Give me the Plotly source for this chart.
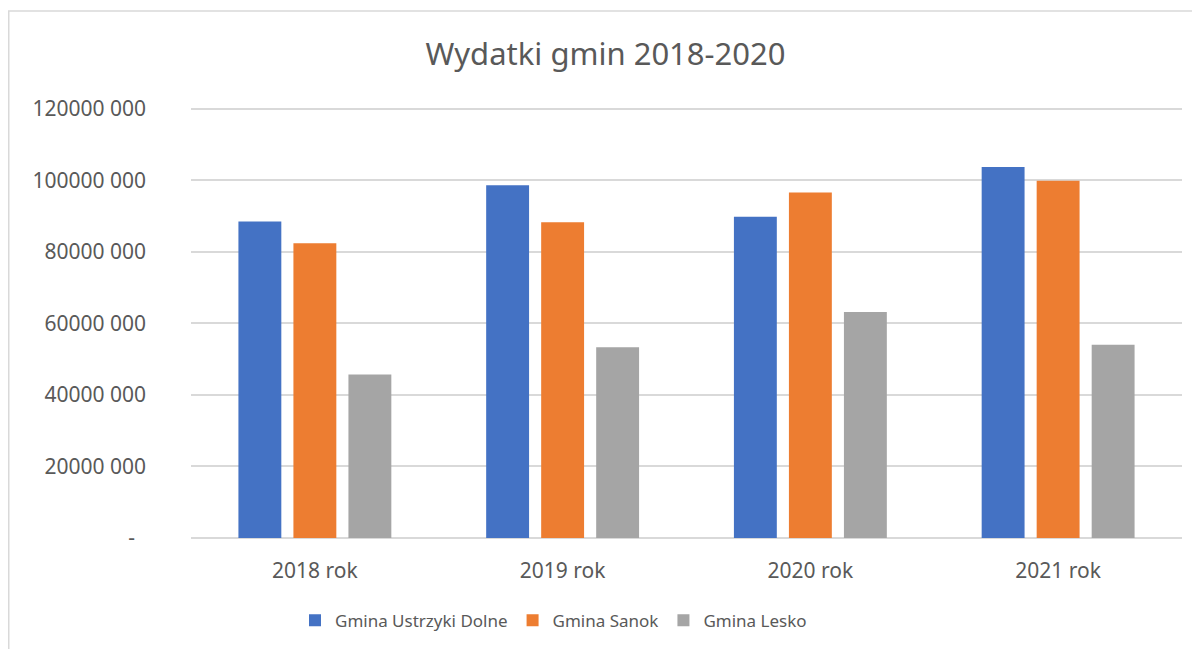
import plotly.graph_objects as go

categories = ["2018 rok", "2019 rok", "2020 rok", "2021 rok"]
ustrzyki = [88.5e6, 98.6e6, 89.8e6, 103.7e6]
sanok = [82.4e6, 88.3e6, 96.6e6, 99.9e6]
lesko = [45.7e6, 53.3e6, 63.2e6, 54.0e6]
series_names = ["Gmina Ustrzyki Dolne", "Gmina Sanok", "Gmina Lesko"]
colors = ["#4472C4", "#ED7D31", "#A5A5A5"]
tick_vals = [0, 20e6, 40e6, 60e6, 80e6, 100e6, 120e6]
tick_text = ["-\u00a0\u00a0", "20000 000", "40000 000", "60000 000", "80000 000", "100000 000", "120000 000"]

# figure is placed by the page at (8, 8); sizes below are in figure pixels
W, H = 1184, 641
ML, MR, MT, MB = 183, 10, 99, 109
FONT = "Noto Sans"
YMAX = 120.5e6

fig = go.Figure()
for name, vals, c in zip(series_names, [ustrzyki, sanok, lesko], colors):
    fig.add_trace(go.Bar(x=categories, y=vals, name=name, marker=dict(color=c, line=dict(width=0))))

pw = W - ML - MR
ph = H - MT - MB
fig.add_shape(type="rect", xref="paper", yref="paper",
              x0=(0.75 - ML) / pw, x1=(W + 20 - ML) / pw,
              y0=(H - MB - (H + 20)) / ph, y1=(H - MB - 2.5) / ph,
              line=dict(color="#D9D9D9", width=1.5), fillcolor="rgba(0,0,0,0)", layer="below")

fig.update_layout(
    width=W, height=H,
    margin=dict(l=ML, r=MR, t=MT, b=MB, pad=0),
    paper_bgcolor="white", plot_bgcolor="white",
    barmode="group", bargap=0.334, bargroupgap=0.22,
    font=dict(family=FONT, color="#595959", size=21),
    title=dict(text="Wydatki gmin 2018-2020", x=597.5 / W, xanchor="center", y=1 - 46 / H, yanchor="middle",
               font=dict(family=FONT, size=31, color="#595959")),
    legend=dict(orientation="h", x=(287 - ML) / pw, xanchor="left", y=-(615 - (H - MB + 0)) / ph, yanchor="middle",
                font=dict(family=FONT, size=17, color="#595959"), itemwidth=30, traceorder="normal"),
    showlegend=True,
)
fig.update_yaxes(range=[0, YMAX], tickvals=tick_vals, ticktext=tick_text, showgrid=True,
                 gridcolor="#D9D9D9", gridwidth=1.5, zeroline=True, zerolinecolor="#D9D9D9", zerolinewidth=1.5,
                 showline=False, ticks="", ticklabelstandoff=44, tickfont=dict(size=21, color="#595959"))
fig.update_xaxes(showgrid=False, showline=False, ticks="", ticklabelstandoff=18,
                 tickfont=dict(size=21, color="#595959"))

fig.write_html("out.html")
